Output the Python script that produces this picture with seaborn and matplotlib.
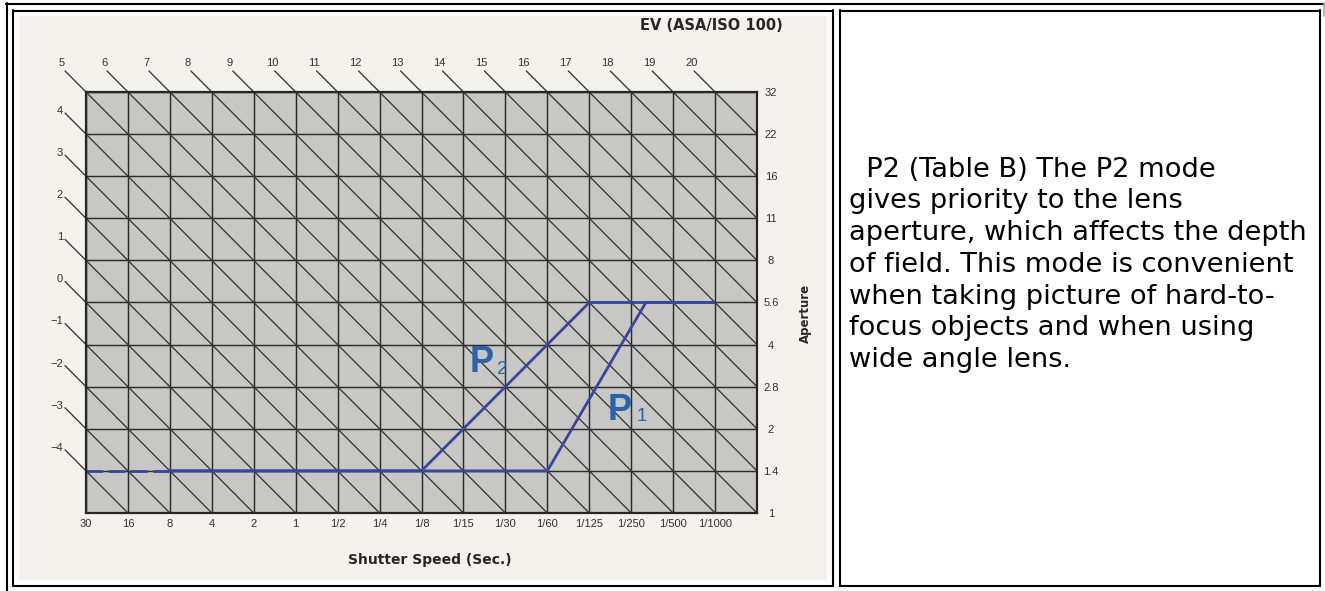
import numpy as np
import pandas as pd
import matplotlib
matplotlib.use('Agg')
import matplotlib.pyplot as plt
import seaborn as sns
from matplotlib.patches import Rectangle
from matplotlib.lines import Line2D

sns.set_style('white')
plt.rcParams['font.family'] = ['Liberation Sans', 'DejaVu Sans']

# ---- data --------------------------------------------------------------
shutter_labels = ['30', '16', '8', '4', '2', '1', '1/2', '1/4', '1/8', '1/15',
                  '1/30', '1/60', '1/125', '1/250', '1/500', '1/1000']
aperture_labels = ['1', '1.4', '2', '2.8', '4', '5.6', '8', '11', '16', '22', '32']
ev_top = list(range(5, 21))        # EV lines entering from the top edge
ev_left = list(range(4, -5, -1))   # EV lines entering from the left edge

# program lines in stops (shutter index, aperture index)
p1_shutter = [0, 11, 13.35, 15]
p1_aperture = [1, 1, 5, 5]
p2_shutter = [0, 8, 12, 15]
p2_aperture = [1, 1, 5, 5]

note_lines = ['  P2 (Table B) The P2 mode',
              'gives priority to the lens',
              'aperture, which affects the depth',
              'of field. This mode is convenient',
              'when taking picture of hard-to-',
              'focus objects and when using',
              'wide angle lens.']

# ---- figure / page layout ----------------------------------------------
W, H = 1325, 591
fig = plt.figure(figsize=(W / 100, H / 100), dpi=100)
fig.patch.set_facecolor('white')


def fx(x):
    return x / W


def fy(y):
    return 1 - y / H


def hline(x0, x1, y, color='black', lw=1.5):
    fig.add_artist(Line2D([fx(x0), fx(x1)], [fy(y), fy(y)], transform=fig.transFigure,
                          color=color, lw=lw, zorder=5))


def vline(x, y0, y1, color='black', lw=1.5):
    fig.add_artist(Line2D([fx(x), fx(x)], [fy(y0), fy(y1)], transform=fig.transFigure,
                          color=color, lw=lw, zorder=5))


# table borders
hline(6, 1324, 3.5)
vline(6.5, 3, 591)
vline(1323.5, 3, 16, color='#a8a8a8', lw=1.2)
for x0, x1 in [(12.5, 833.5), (839.5, 1319.5)]:
    hline(x0, x1, 10.5)
    hline(x0, x1, 585.5)
    vline(x0, 10, 586)
    vline(x1, 10, 586)

# scanned page background
fig.add_artist(Rectangle((fx(19), fy(580)), fx(827) - fx(19), fy(16) - fy(580),
                         transform=fig.transFigure, facecolor='#f5f2ee',
                         edgecolor='none', zorder=-1))

# ---- chart ---------------------------------------------------------------
n_cols = len(shutter_labels)
n_rows = len(aperture_labels) - 1
ax = fig.add_axes([fx(86), fy(513), fx(757) - fx(86), fy(92) - fy(513)])
ax.set_facecolor('#c7c7c5')

# constant-EV diagonals (one column right = one row down)
rows = []
for ev in ev_left[::-1] + ev_top:
    if ev >= ev_top[0]:
        x0, y0 = ev - ev_top[0], n_rows
    else:
        x0, y0 = 0, n_rows + ev - ev_top[0]
    x1 = min(n_cols, x0 + y0)
    y1 = y0 - (x1 - x0)
    rows.append({'ev': ev, 'x': x0 - 0.5, 'y': y0 + 0.5})
    rows.append({'ev': ev, 'x': x1, 'y': y1})
    if ev in ev_top:
        ax.text(x0 - 0.57, y0 + 0.7, str(ev), ha='center', va='center',
                fontsize=8, color='#303030')
    else:
        ax.text(x0 - 0.55, y0 + 0.55, str(ev).replace('-', '\u2212'), ha='right',
                va='center', fontsize=8, color='#303030')
diag = pd.DataFrame(rows)
sns.lineplot(data=diag, x='x', y='y', units='ev', estimator=None, sort=False,
             color='#363636', lw=0.95, ax=ax, clip_on=False, legend=False)

# program lines
blue = '#36479c'
dash_end = 2
prog = []
for mode, xs, ys in [('P1', p1_shutter, p1_aperture), ('P2', p2_shutter, p2_aperture)]:
    pts = [(dash_end, ys[0])] + [(x, y) for x, y in zip(xs, ys) if x > dash_end]
    for x, y in pts:
        prog.append({'mode': mode, 'x': x, 'y': y})
prog = pd.DataFrame(prog)
sns.lineplot(data=prog, x='x', y='y', units='mode', estimator=None, sort=False,
             color=blue, lw=2.0, ax=ax, legend=False, solid_capstyle='butt')
ax.plot([p1_shutter[0], dash_end], [p1_aperture[0], p1_aperture[0]], color=blue,
        lw=2.0, dashes=(6, 2))

ax.set_xlim(0, n_cols)
ax.set_ylim(0, n_rows)
ax.set_xticks(range(n_cols + 1))
ax.set_xticklabels(shutter_labels + [''])
ax.set_yticks(range(n_rows + 1))
ax.set_yticklabels(aperture_labels)
ax.yaxis.tick_right()
ax.tick_params(length=0, labelsize=8, labelcolor='#303030')
ax.tick_params(axis='x', pad=4.0)
ax.tick_params(axis='y', pad=10)
for lab in ax.get_yticklabels():
    lab.set_ha('center')
ax.grid(True, color='#2c2c2c', lw=1.05)
ax.set_axisbelow(True)
ax.set_xlabel('')
ax.set_ylabel('')
for sp in ax.spines.values():
    sp.set_visible(True)
    sp.set_color('#262626')
    sp.set_linewidth(1.6)

# P labels
fig.text(fx(470), fy(372), 'P', fontsize=26, fontweight='bold', color='#2b62ad',
         ha='left', va='baseline')
fig.text(fx(497), fy(374), '2', fontsize=13.5, color='#2b62ad', ha='left', va='baseline')
fig.text(fx(608), fy(420), 'P', fontsize=26, fontweight='bold', color='#2b62ad',
         ha='left', va='baseline')
fig.text(fx(637), fy(421), '1', fontsize=13.5, color='#2b62ad', ha='left', va='baseline')

# axis captions
fig.text(fx(783), fy(25), 'EV (ASA/ISO 100)', fontsize=10.5, fontweight='bold',
         family='DejaVu Sans', color='#262626', ha='right', va='center')
fig.text(fx(430), fy(560), 'Shutter Speed (Sec.)', fontsize=10, fontweight='bold',
         family='DejaVu Sans', color='#262626', ha='center', va='center')
fig.text(fx(805), fy(313), 'Aperture', fontsize=8.5, fontweight='bold', rotation=90,
         family='DejaVu Sans', color='#262626', ha='center', va='center')

# ---- note text -------------------------------------------------------------
for i, line in enumerate(note_lines):
    fig.text(fx(849), fy(176.7 + i * 31.7), line, fontsize=19.6, family='DejaVu Sans',
             color='black', ha='left', va='baseline')

fig.savefig('out.png', dpi=100, facecolor='white')
